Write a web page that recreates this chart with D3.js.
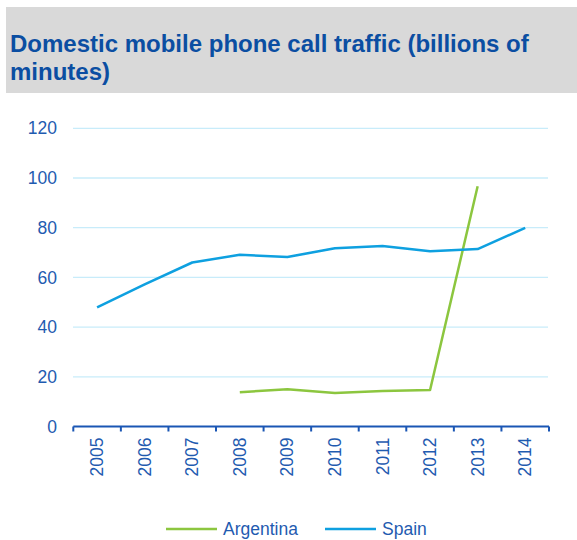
<!DOCTYPE html>
<html>
<head>
<meta charset="utf-8">
<script src="https://cdn.jsdelivr.net/npm/d3@7"></script>
<style>
  html, body { margin: 0; padding: 0; background: #fff; }
  svg { display: block; font-family: "Liberation Sans", Arial, sans-serif; }
</style>
</head>
<body>
<svg id="chart" width="577" height="540"></svg>
<script>
// Domestic mobile phone call traffic, billions of minutes
const years = ["2005", "2006", "2007", "2008", "2009", "2010", "2011", "2012", "2013", "2014"];
const spain = [47.9, 57.2, 66.0, 69.1, 68.2, 71.7, 72.6, 70.5, 71.4, 79.9];
const argentina = [null, null, null, 13.8, 15.0, 13.5, 14.3, 14.7, 96.7, null];
const yTicks = [0, 20, 40, 60, 80, 100, 120];
const seriesNames = ["Argentina", "Spain"];
const seriesColors = ["#8cc63f", "#0ea0e0"];

const svg = d3.select("#chart");
const textBlue = "#1f5bb0";
const fontSize = 17.5;

// Title band
svg.append("rect").attr("x", 6).attr("y", 7).attr("width", 571).attr("height", 86).attr("fill", "#d9d9d9");
const title = svg.append("text").attr("x", 10).attr("fill", "#0b4ea2")
  .attr("font-weight", "bold").attr("font-size", 24);
title.append("tspan").attr("x", 10).attr("y", 52).text("Domestic mobile phone call traffic (billions of");
title.append("tspan").attr("x", 10).attr("y", 79.5).text("minutes)");

const x = d3.scaleBand().domain(years).range([73.3, 549]);
const y = d3.scaleLinear().domain([0, 120]).range([426.5, 128.3]);

// Gridlines
svg.append("g").selectAll("line").data(yTicks.filter(d => d > 0)).join("line")
  .attr("x1", 73).attr("x2", 548)
  .attr("y1", d => y(d)).attr("y2", d => y(d))
  .attr("stroke", "#c8ecfa").attr("stroke-width", 1.3);

// Y axis labels
const yAxis = svg.append("g").attr("transform", "translate(73,0)")
  .call(d3.axisLeft(y).tickValues(yTicks).tickSize(0).tickPadding(16));
yAxis.select(".domain").remove();
yAxis.selectAll("text").attr("fill", textBlue).attr("font-size", fontSize)
  .attr("font-family", "Liberation Sans, Arial, sans-serif");

// X axis
const xAxis = svg.append("g").attr("transform", `translate(0,${y(0)})`)
  .call(d3.axisBottom(x).tickSizeOuter(0).tickSize(0));
xAxis.select(".domain").remove();
xAxis.selectAll("text")
  .attr("fill", textBlue).attr("font-size", fontSize)
  .attr("font-family", "Liberation Sans, Arial, sans-serif")
  .attr("transform", "rotate(-90)")
  .attr("text-anchor", "end").attr("dy", "0.35em")
  .attr("x", -11).attr("y", 0);
// Axis baseline and band separators
const bounds = years.map(d => x(d)).concat([x(years[years.length - 1]) + x.bandwidth()]);
svg.append("line").attr("x1", 73.3).attr("x2", 549).attr("y1", y(0)).attr("y2", y(0))
  .attr("stroke", "#1a56b4").attr("stroke-width", 2);
svg.append("g").selectAll("line").data(bounds).join("line")
  .attr("x1", d => d).attr("x2", d => d)
  .attr("y1", y(0)).attr("y2", y(0) + 5)
  .attr("stroke", "#1a56b4").attr("stroke-width", 2);

// Series lines
const cx = d => x(d) + x.bandwidth() / 2;
const line = d3.line()
  .defined(d => d.v != null)
  .x(d => cx(d.year)).y(d => y(d.v));
[argentina, spain].forEach((vals, i) => {
  svg.append("path")
    .datum(years.map((yr, j) => ({ year: yr, v: vals[j] })))
    .attr("fill", "none").attr("stroke", seriesColors[i])
    .attr("stroke-width", 2.5).attr("stroke-linejoin", "round")
    .attr("d", line);
});

// Legend
const legendItems = [{ x: 166, tx: 223 }, { x: 325, tx: 382 }];
legendItems.forEach((p, i) => {
  svg.append("line").attr("x1", p.x).attr("x2", p.x + 51).attr("y1", 529).attr("y2", 529)
    .attr("stroke", seriesColors[i]).attr("stroke-width", 2.5);
  svg.append("text").attr("x", p.tx).attr("y", 535).attr("fill", textBlue)
    .attr("font-size", fontSize).text(seriesNames[i]);
});
</script>
</body>
</html>
